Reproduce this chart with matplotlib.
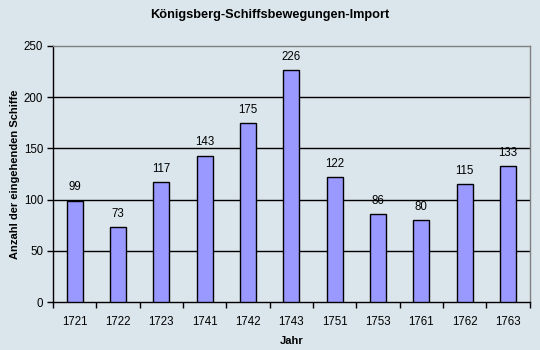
import matplotlib
matplotlib.use("Agg")
import matplotlib.pyplot as plt
import numpy as np

plt.rcParams["font.family"] = ["Liberation Sans", "DejaVu Sans"]

# Schiffsbewegungen Königsberg, Import
years = ["1721", "1722", "1723", "1741", "1742", "1743", "1751", "1753", "1761", "1762", "1763"]
ships = [99, 73, 117, 143, 175, 226, 122, 86, 80, 115, 133]

bg = "#DBE6EC"
fig = plt.figure(figsize=(5.4, 3.5), dpi=100, facecolor=bg)
ax = fig.add_axes([0.098, 0.137, 0.883, 0.732], facecolor=bg)

x = np.arange(len(years))
ax.bar(x, ships, width=0.37, color="#9999FF", edgecolor="black", linewidth=1.0, zorder=3)
for xi, v in zip(x, ships):
    ax.text(xi, v + 7, str(v), ha="center", va="bottom", fontsize=8.3, zorder=4)

ax.set_xlim(-0.5, len(years) - 0.5)
ax.set_ylim(0, 250)
ax.set_yticks(range(0, 251, 50))
ax.set_xticks(x)
ax.set_xticklabels(years)
ax.set_xticks(np.arange(-0.5, len(years), 1), minor=True)
ax.tick_params(axis="x", which="major", length=0, pad=10, labelsize=8.3)
ax.tick_params(axis="x", which="minor", length=4, width=1, direction="out")
ax.tick_params(axis="y", length=4, width=1, direction="out", labelsize=8.3, pad=3)

for y in range(50, 250, 50):
    ax.axhline(y, color="black", linewidth=1, zorder=1)

ax.spines["left"].set_color("black")
ax.spines["bottom"].set_color("black")
ax.spines["top"].set_color("#808080")
ax.spines["right"].set_color("#808080")
for s in ax.spines.values():
    s.set_linewidth(1)

ax.set_xlabel("Jahr", fontsize=8, fontweight="bold", labelpad=6)
ax.set_ylabel("Anzahl der eingehenden Schiffe", fontsize=8, fontweight="bold", labelpad=3)
fig.suptitle("Königsberg-Schiffsbewegungen-Import", fontsize=9.2, fontweight="bold", y=0.975)

fig.savefig("out.png", dpi=100, facecolor=bg)
